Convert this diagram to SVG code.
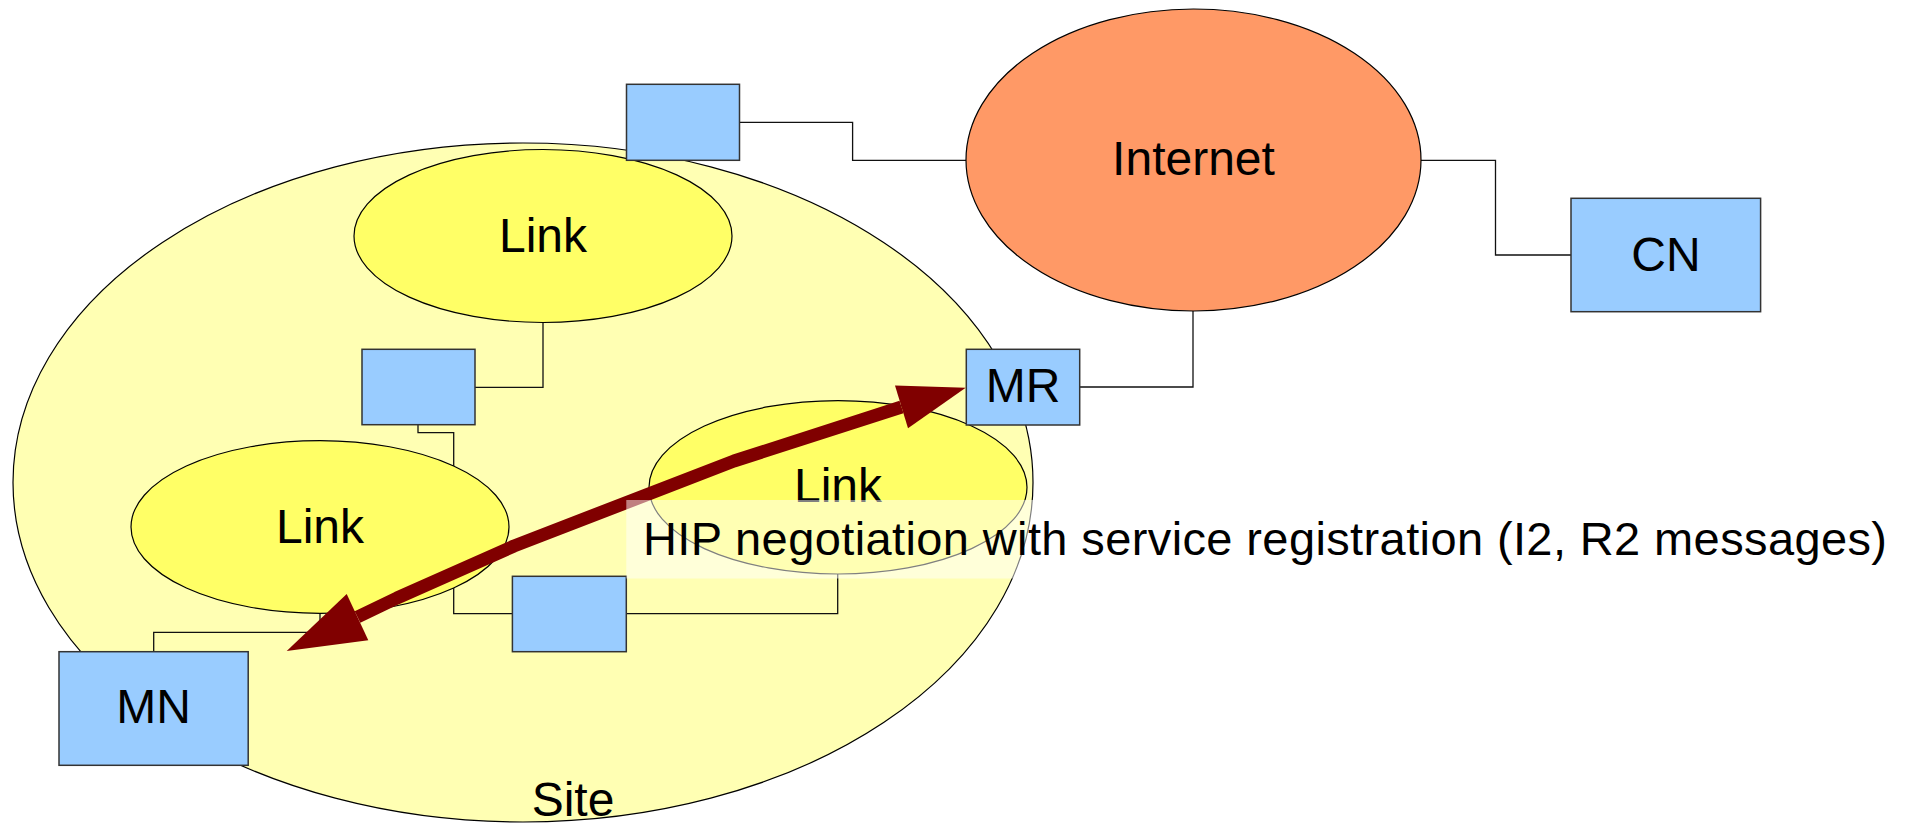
<svg xmlns="http://www.w3.org/2000/svg" width="1912" height="824" viewBox="0 0 1912 824">
  <style>
    .site { fill: #ffffb3; stroke: #000; stroke-width: 1.2; }
    .link { fill: #ffff66; stroke: #000; stroke-width: 1.2; }
    .cloud { fill: #ff9966; stroke: #000; stroke-width: 1.2; }
    .box { fill: #99ccff; stroke: #333; stroke-width: 1.5; }
    .wire { fill: none; stroke: #111; stroke-width: 1.3; }
    .label { font-family: "Liberation Sans", Arial, sans-serif; font-size: 48px; fill: #000; text-anchor: middle; }
    .flow { fill: none; stroke: #800000; stroke-width: 13; stroke-linejoin: round; }
    .flowhead { fill: #800000; }
    .caption { font-family: "Liberation Sans", Arial, sans-serif; font-size: 47px; fill: #000; }
  </style>

  <!-- site boundary -->
  <g id="site">
    <ellipse class="site" cx="523" cy="482.5" rx="510" ry="339.5"/>
    <text class="label" x="573" y="816">Site</text>
  </g>

  <!-- wiring between routers, links and hosts -->
  <g id="connectors">
    <polyline class="wire" points="739.5,122.3 852.6,122.3 852.6,160.3 966.3,160.3"/>
    <polyline class="wire" points="1421,160.3 1495.5,160.3 1495.5,255 1571,255"/>
    <polyline class="wire" points="1193,311 1193,387 1079.7,387"/>
    <polyline class="wire" points="543,322.3 543,387.3 475,387.3"/>
    <polyline class="wire" points="418,424.7 418,432.7 453.7,432.7 453.7,613.7 512.4,613.7"/>
    <polyline class="wire" points="320,613.3 320,632.3 153.7,632.3 153.7,651.7"/>
    <polyline class="wire" points="626.3,613.7 837.7,613.7 837.7,574"/>
  </g>

  <g id="link-top">
    <ellipse class="link" cx="543" cy="236" rx="189" ry="86.5"/>
    <text class="label" x="543" y="251.7">Link</text>
  </g>
  <g id="link-left">
    <ellipse class="link" cx="320" cy="527" rx="189" ry="86.3"/>
    <text class="label" x="320" y="542.7">Link</text>
  </g>
  <g id="link-right">
    <ellipse class="link" cx="838" cy="487.3" rx="189" ry="86.7"/>
    <text class="label" x="838" y="501.7">Link</text>
  </g>

  <g id="router-gateway">
    <rect class="box" x="626.5" y="84.3" width="113" height="76"/>
  </g>
  <g id="router-top">
    <rect class="box" x="362" y="349.3" width="113" height="75.4"/>
  </g>
  <g id="router-bottom">
    <rect class="box" x="512.4" y="576.3" width="113.9" height="75.4"/>
  </g>

  <g id="internet">
    <ellipse class="cloud" cx="1193.5" cy="160" rx="227.5" ry="151"/>
    <text class="label" x="1193.5" y="175">Internet</text>
  </g>

  <g id="cn">
    <rect class="box" x="1571" y="198.3" width="189.6" height="113.4"/>
    <text class="label" x="1666" y="270.7">CN</text>
  </g>

  <g id="mr">
    <rect class="box" x="966.3" y="349.3" width="113.4" height="75.7"/>
    <text class="label" x="1023" y="402.3">MR</text>
  </g>

  <g id="mn">
    <rect class="box" x="59" y="651.7" width="189.2" height="113.6"/>
    <text class="label" x="153.7" y="723.3">MN</text>
  </g>

  <!-- HIP exchange between MN and MR -->
  <g id="hip-exchange">
    <polyline class="flow" points="357.5,617 397,598 514,546 734,461 901.5,407"/>
    <polygon class="flowhead" points="286.7,651 346.7,594 368.3,640.3"/>
    <polygon class="flowhead" points="965.7,387.7 895,385.5 908,428.3"/>
  </g>

  <g id="hip-caption">
    <rect x="626.3" y="500" width="1285" height="78.5" fill="#ffffff" fill-opacity="0.5"/>
    <text class="caption" x="643" y="555" textLength="1244" lengthAdjust="spacing">HIP negotiation with service registration (I2, R2 messages)</text>
  </g>
</svg>
